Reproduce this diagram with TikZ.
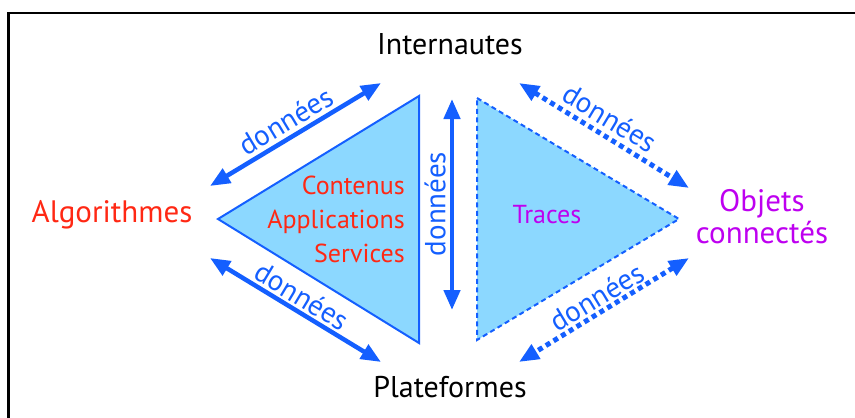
\documentclass[tikz,border=0pt]{standalone}
\usepackage{fontspec}
\setmainfont{PT Sans}
\usetikzlibrary{arrows.meta}
\definecolor{dblue}{RGB}{20,95,255}
\definecolor{tfill}{RGB}{140,216,255}
\definecolor{tred}{RGB}{255,40,20}
\definecolor{tpurple}{RGB}{190,0,240}
\tikzset{
  bigtext/.style={inner sep=0pt, font=\fontsize{30}{34}\selectfont},
  sidetext/.style={inner sep=0pt, font=\fontsize{31}{34}\selectfont},
  intext/.style={inner sep=0pt, font=\fontsize{26}{34}\selectfont},
  datalabel/.style={inner sep=0pt, text=dblue, font=\fontsize{29}{30}\selectfont},
  solidarrow/.style={draw=dblue, line width=4.5pt, {Triangle[length=20pt,width=16pt]}-{Triangle[length=20pt,width=16pt]}},
  dotarrow/.style={draw=dblue, line width=5pt, dash pattern=on 5pt off 4pt, {Triangle[length=20pt,width=16pt]}-{Triangle[length=20pt,width=16pt]}},
  tri/.style={fill=tfill, draw=dblue, line width=2pt, line join=miter},
}
\begin{document}
\begin{tikzpicture}[x=1pt,y=-1pt]
\useasboundingbox (0,0) rectangle (855,418);
% frame
\draw[line width=2.5pt] (855,13) -- (8.5,13) -- (8.5,418);

% triangles
\draw[tri] (218,219) -- (419,96) -- (419,343) -- cycle;
\draw[tri, dash pattern=on 5pt off 3.5pt] (477,98) -- (679,219) -- (477,340) -- cycle;

% main labels
\node[bigtext] (inter) at (450,44) {Internautes};
\node[bigtext] (plat) at (450,387) {Plateformes};
\node[sidetext, text=tred] (algo) at (112,215) {Algorithmes};
\node[sidetext, text=tpurple, align=center, font=\fontsize{31}{32}\selectfont] (obj) at (762,217) {Objets\\connectés};

\node[intext, text=tred, align=right, anchor=east] (cas) at (405,219) {Contenus\\Applications\\Services};
\node[intext, text=tpurple] (traces) at (547,215) {Traces};

% arrow end points
\coordinate (a1) at (210,186);
\coordinate (a2) at (381,83);
\coordinate (b1) at (210,258);
\coordinate (b2) at (381,362);
\coordinate (c1) at (519,83);
\coordinate (c2) at (689,188);
\coordinate (d1) at (689,258);
\coordinate (d2) at (519,362);
\coordinate (v1) at (452,99);
\coordinate (v2) at (452,310);

\draw[solidarrow] (a1) -- (a2);
\draw[solidarrow] (b1) -- (b2);
\draw[solidarrow] (v1) -- (v2);
\draw[dotarrow] (c1) -- (c2);
\draw[dotarrow] (d1) -- (d2);

\node[datalabel, rotate=31] (la) at (286,121) {données};
\node[datalabel, rotate=-31] (lb) at (302,296) {données};
\node[datalabel, rotate=-31] (lc) at (610,118) {données};
\node[datalabel, rotate=31] (ld) at (597,297) {données};
\node[datalabel, rotate=90] (lv) at (435,204) {données};
\end{tikzpicture}
\end{document}
